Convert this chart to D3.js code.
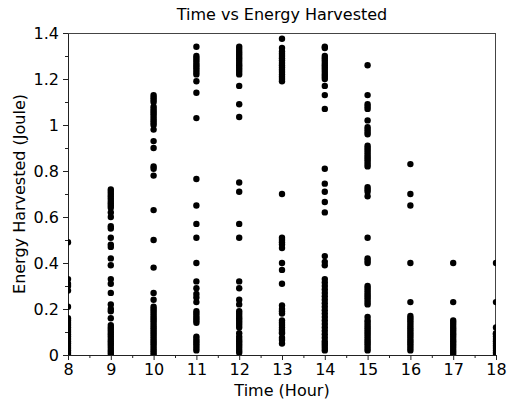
<!DOCTYPE html>
<html>
<head>
<meta charset="utf-8">
<script src="https://cdn.jsdelivr.net/npm/d3@7"></script>
<style>
  html, body { margin: 0; padding: 0; background: #fff; }
  svg { display: block; font-family: "DejaVu Sans", sans-serif; }
</style>
</head>
<body>
<svg id="chart" width="508" height="404"></svg>
<script>
// Energy harvested readings (Joule) grouped by hour of day
const hours = [8, 9, 10, 11, 12, 13, 14, 15, 16, 17, 18];

const energy8  = [0.49, 0.33, 0.31, 0.30, 0.28, 0.21, 0.16, 0.15, 0.14, 0.13, 0.12, 0.11, 0.10, 0.09, 0.08, 0.07, 0.06, 0.05, 0.04, 0.03, 0.02, 0.01, 0.00];
const energy9  = [0.72, 0.71, 0.70, 0.69, 0.68, 0.67, 0.66, 0.65, 0.64, 0.62, 0.60, 0.56, 0.55, 0.51, 0.48, 0.47, 0.42, 0.39, 0.33, 0.31, 0.27, 0.22, 0.20, 0.19, 0.16, 0.13, 0.12, 0.11, 0.10, 0.09, 0.08, 0.07, 0.06, 0.05, 0.04, 0.03, 0.02, 0.01, 0.00];
const energy10 = [1.13, 1.12, 1.11, 1.10, 1.08, 1.07, 1.06, 1.05, 1.04, 1.03, 1.02, 1.01, 1.00, 0.98, 0.93, 0.90, 0.82, 0.81, 0.78, 0.63, 0.50, 0.38, 0.27, 0.24, 0.21, 0.20, 0.19, 0.18, 0.17, 0.16, 0.15, 0.14, 0.13, 0.12, 0.11, 0.10, 0.09, 0.08, 0.07, 0.06, 0.05, 0.04, 0.03, 0.02, 0.01, 0.00];
const energy11 = [1.34, 1.30, 1.29, 1.28, 1.27, 1.26, 1.25, 1.24, 1.23, 1.22, 1.19, 1.14, 1.03, 0.765, 0.65, 0.57, 0.51, 0.40, 0.32, 0.29, 0.265, 0.25, 0.23, 0.19, 0.18, 0.17, 0.16, 0.15, 0.14, 0.08, 0.07, 0.06, 0.05, 0.04, 0.03, 0.02];
const energy12 = [1.34, 1.33, 1.32, 1.31, 1.30, 1.29, 1.28, 1.27, 1.26, 1.25, 1.24, 1.23, 1.22, 1.17, 1.09, 1.035, 0.75, 0.71, 0.57, 0.51, 0.32, 0.29, 0.24, 0.22, 0.19, 0.18, 0.17, 0.16, 0.15, 0.14, 0.13, 0.12, 0.095, 0.08, 0.07, 0.06, 0.05, 0.04, 0.03, 0.02, 0.01];
const energy13 = [1.375, 1.335, 1.32, 1.31, 1.30, 1.29, 1.28, 1.27, 1.26, 1.25, 1.24, 1.23, 1.22, 1.21, 1.20, 1.19, 0.70, 0.51, 0.50, 0.49, 0.48, 0.465, 0.40, 0.37, 0.31, 0.215, 0.20, 0.19, 0.18, 0.15, 0.14, 0.13, 0.12, 0.11, 0.10, 0.095, 0.075, 0.065, 0.05];
const energy14 = [1.34, 1.335, 1.30, 1.29, 1.28, 1.27, 1.26, 1.25, 1.24, 1.23, 1.22, 1.21, 1.20, 1.17, 1.13, 1.07, 0.81, 0.745, 0.71, 0.665, 0.62, 0.43, 0.405, 0.39, 0.33, 0.315, 0.30, 0.285, 0.27, 0.255, 0.24, 0.225, 0.21, 0.195, 0.18, 0.165, 0.15, 0.135, 0.12, 0.105, 0.09, 0.075, 0.06, 0.05, 0.04, 0.03, 0.02];
const energy15 = [1.26, 1.13, 1.09, 1.08, 1.07, 1.02, 0.99, 0.98, 0.97, 0.96, 0.91, 0.90, 0.89, 0.88, 0.87, 0.86, 0.85, 0.84, 0.83, 0.82, 0.73, 0.72, 0.71, 0.69, 0.51, 0.42, 0.41, 0.40, 0.30, 0.29, 0.28, 0.27, 0.26, 0.25, 0.24, 0.23, 0.22, 0.165, 0.15, 0.14, 0.13, 0.12, 0.11, 0.10, 0.09, 0.08, 0.07, 0.06, 0.05, 0.04, 0.03, 0.02];
const energy16 = [0.83, 0.70, 0.65, 0.40, 0.23, 0.17, 0.16, 0.15, 0.14, 0.13, 0.12, 0.11, 0.10, 0.09, 0.08, 0.07, 0.06, 0.05, 0.04, 0.03, 0.02];
const energy17 = [0.40, 0.23, 0.15, 0.14, 0.13, 0.12, 0.11, 0.10, 0.09, 0.08, 0.07, 0.06, 0.05, 0.04, 0.03, 0.02, 0.01, 0.00];
const energy18 = [0.40, 0.23, 0.12, 0.095, 0.09, 0.08, 0.07, 0.06, 0.05, 0.04, 0.03, 0.02, 0.01, 0.00];

const energyByHour = [energy8, energy9, energy10, energy11, energy12, energy13, energy14, energy15, energy16, energy17, energy18];

const xTicks = [8, 9, 10, 11, 12, 13, 14, 15, 16, 17, 18];
const yTicks = [0, 0.2, 0.4, 0.6, 0.8, 1.0, 1.2, 1.4];
const yTickLabels = ["0", "0.2", "0.4", "0.6", "0.8", "1", "1.2", "1.4"];

const titleText = "Time vs Energy Harvested";
const xLabelText = "Time (Hour)";
const yLabelText = "Energy Harvested (Joule)";

// Flatten into (hour, energy) pairs
const points = [];
hours.forEach((h, i) => energyByHour[i].forEach(v => points.push({ hour: h, energy: v })));

// Layout
const margin = { top: 33, right: 12, bottom: 49, left: 68 };
const W = 508, H = 404;
const innerW = W - margin.left - margin.right;
const innerH = H - margin.top - margin.bottom;
const fontSize = 16;

const svg = d3.select("#chart");
const g = svg.append("g").attr("transform", `translate(${margin.left},${margin.top})`);

const x = d3.scaleLinear().domain([8, 18]).range([0, innerW]);
const y = d3.scaleLinear().domain([0, 1.4]).range([innerH, 0]);

const axisColor = "#222";

// Minor ticks
const xMinor = d3.range(8, 18.01, 0.5).filter(v => !xTicks.includes(v));
const yMinor = d3.range(0, 1.401, 0.1).map(v => +v.toFixed(1)).filter(v => !yTicks.some(t => Math.abs(t - v) < 1e-9));

g.append("g").attr("transform", `translate(0,${innerH})`)
  .call(d3.axisBottom(x).tickValues(xMinor).tickSize(3).tickFormat(""))
  .call(a => a.select(".domain").remove())
  .selectAll("line").attr("stroke", axisColor);

g.append("g")
  .call(d3.axisLeft(y).tickValues(yMinor).tickSize(3).tickFormat(""))
  .call(a => a.select(".domain").remove())
  .selectAll("line").attr("stroke", axisColor);

// Major axes
const xAxis = g.append("g").attr("transform", `translate(0,${innerH})`)
  .call(d3.axisBottom(x).tickValues(xTicks).tickSize(5).tickPadding(4).tickSizeOuter(0).tickFormat(d3.format("d")));
xAxis.select(".domain").attr("stroke", axisColor);
xAxis.selectAll("line").attr("stroke", axisColor);
xAxis.selectAll("text").attr("font-size", fontSize).attr("fill", "#000")
  .attr("font-family", "DejaVu Sans, sans-serif");

const yAxis = g.append("g")
  .call(d3.axisLeft(y).tickValues(yTicks).tickSize(5).tickPadding(4).tickSizeOuter(0)
    .tickFormat((d, i) => yTickLabels[i]));
yAxis.select(".domain").attr("stroke", axisColor);
yAxis.selectAll("line").attr("stroke", axisColor);
yAxis.selectAll("text").attr("font-size", fontSize).attr("fill", "#000")
  .attr("font-family", "DejaVu Sans, sans-serif");

// Top and right frame lines
g.append("line").attr("x1", 0).attr("x2", innerW).attr("y1", 0.5).attr("y2", 0.5)
  .attr("stroke", "#444");
g.append("line").attr("x1", innerW - 0.5).attr("x2", innerW - 0.5).attr("y1", 0).attr("y2", innerH)
  .attr("stroke", "#444");

// Clip markers to the plotting area
svg.append("defs").append("clipPath").attr("id", "plot-clip")
  .append("rect").attr("x", 0).attr("y", 0).attr("width", innerW).attr("height", innerH);

g.append("g").attr("clip-path", "url(#plot-clip)")
  .selectAll("circle").data(points).join("circle")
  .attr("cx", d => x(d.hour))
  .attr("cy", d => y(d.energy))
  .attr("r", 3.2)
  .attr("fill", "#000");

// Title and labels
svg.append("text").attr("x", margin.left + innerW / 2).attr("y", 20)
  .attr("text-anchor", "middle").attr("font-size", fontSize).attr("fill", "#000")
  .text(titleText);

svg.append("text").attr("x", margin.left + innerW / 2).attr("y", 396)
  .attr("text-anchor", "middle").attr("font-size", fontSize).attr("fill", "#000")
  .text(xLabelText);

svg.append("text")
  .attr("transform", `translate(25,${margin.top + innerH / 2}) rotate(-90)`)
  .attr("text-anchor", "middle").attr("font-size", fontSize).attr("fill", "#000")
  .text(yLabelText);
</script>
</body>
</html>
